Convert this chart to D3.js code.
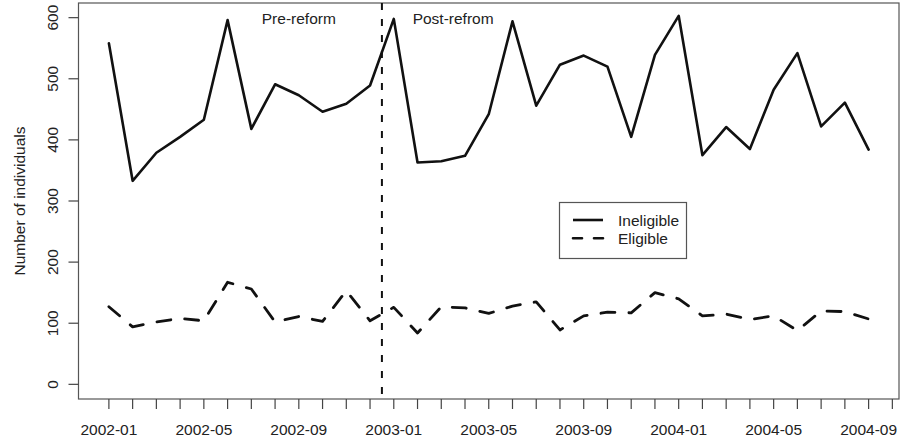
<!DOCTYPE html>
<html>
<head>
<meta charset="utf-8">
<script src="https://cdn.jsdelivr.net/npm/d3@7"></script>
<style>
  html, body { margin: 0; padding: 0; background: #fff; }
  svg { display: block; }
  text { font-family: "Liberation Sans", Arial, Helvetica, sans-serif; fill: #222; }
</style>
</head>
<body>
<svg id="chart" width="902" height="442"></svg>
<script>
const months = ["2002-01","2002-02","2002-03","2002-04","2002-05","2002-06","2002-07","2002-08","2002-09","2002-10","2002-11","2002-12",
  "2003-01","2003-02","2003-03","2003-04","2003-05","2003-06","2003-07","2003-08","2003-09","2003-10","2003-11","2003-12",
  "2004-01","2004-02","2004-03","2004-04","2004-05","2004-06","2004-07","2004-08","2004-09"];
const ineligible = [558, 333, 379, 405, 433, 596, 418, 491, 473, 446, 459, 489, 598, 363, 365, 374, 442, 594, 456, 523, 538, 520, 405, 539, 603, 375, 421, 385, 482, 542, 422, 461, 384];
const eligible = [127, 94, 102, 108, 104, 167, 156, 102, 111, 103, 153, 104, 126, 84, 127, 125, 116, 128, 135, 89, 112, 118, 117, 150, 140, 112, 115, 106, 112, 88, 120, 119, 107];
const xTickLabels = ["2002-01","2002-05","2002-09","2003-01","2003-05","2003-09","2004-01","2004-05","2004-09"];
const yTicks = [0, 100, 200, 300, 400, 500, 600];
const reformBreak = 11.5; // between 2002-12 and 2003-01 (month index)
const annotations = [{label: "Pre-reform", x: 8, y: 600}, {label: "Post-refrom", x: 14.5, y: 600}];
const legendItems = ["Ineligible", "Eligible"];

const svg = d3.select("#chart");
const L = 78.5, R = 899, T = 3, B = 399;
const x = d3.scaleLinear().domain([-1.28, 33.28]).range([L, R]);
const y = d3.scaleLinear().domain([-24, 624]).range([B, T]);

// box
svg.append("rect").attr("x", L).attr("y", T).attr("width", R - L).attr("height", B - T)
  .attr("fill", "none").attr("stroke", "#555").attr("stroke-width", 1.2);

// x axis ticks (every month)
const tickIdx = d3.range(0, months.length + 1);
const gx = svg.append("g");
gx.selectAll("line").data(tickIdx).join("line")
  .attr("x1", d => x(d)).attr("x2", d => x(d))
  .attr("y1", B).attr("y2", B + 10)
  .attr("stroke", "#444").attr("stroke-width", 1.2);
gx.selectAll("text").data(xTickLabels).join("text")
  .attr("x", d => x(months.indexOf(d)))
  .attr("y", 435)
  .attr("text-anchor", "middle")
  .attr("font-size", 15.5)
  .text(d => d);

// y axis ticks
const gy = svg.append("g");
gy.selectAll("line").data(yTicks).join("line")
  .attr("x1", L - 10).attr("x2", L)
  .attr("y1", d => y(d)).attr("y2", d => y(d))
  .attr("stroke", "#444").attr("stroke-width", 1.2);
gy.selectAll("text").data(yTicks).join("text")
  .attr("transform", d => `translate(58,${y(d)}) rotate(-90)`)
  .attr("text-anchor", "middle")
  .attr("font-size", 15.5)
  .text(d => d);

svg.append("text")
  .attr("transform", `translate(24.5,${(T + B) / 2}) rotate(-90)`)
  .attr("text-anchor", "middle")
  .attr("font-size", 15.5)
  .text("Number of individuals");

// reform line
svg.append("line")
  .attr("x1", x(reformBreak)).attr("x2", x(reformBreak))
  .attr("y1", T).attr("y2", B)
  .attr("stroke", "#111").attr("stroke-width", 2)
  .attr("stroke-dasharray", "7,9");

// series
const line = d3.line().x((d, i) => x(i)).y(d => y(d));
svg.append("path").datum(ineligible).attr("d", line)
  .attr("fill", "none").attr("stroke", "#111").attr("stroke-width", 2.6)
  .attr("stroke-linejoin", "round").attr("stroke-linecap", "round");
svg.append("path").datum(eligible).attr("d", line)
  .attr("fill", "none").attr("stroke", "#111").attr("stroke-width", 2.8)
  .attr("stroke-linejoin", "round").attr("stroke-linecap", "round")
  .attr("stroke-dasharray", "14,14");

// annotations
svg.selectAll("text.ann").data(annotations).join("text")
  .attr("class", "ann")
  .attr("x", d => x(d.x)).attr("y", d => y(d.y) + 6)
  .attr("text-anchor", "middle").attr("font-size", 15.5)
  .text(d => d.label);

// legend
const lg = svg.append("g");
lg.append("rect").attr("x", 559.5).attr("y", 202.5).attr("width", 127).attr("height", 56)
  .attr("fill", "#fff").attr("stroke", "#555").attr("stroke-width", 1.2);
legendItems.forEach((name, i) => {
  const yy = 220 + i * 18.3;
  lg.append("line").attr("x1", 573).attr("x2", 603).attr("y1", yy).attr("y2", yy)
    .attr("stroke", "#111").attr("stroke-width", 2.6)
    .attr("stroke-dasharray", i === 1 ? "9,12" : null)
    .attr("stroke-linecap", i === 1 ? "round" : "butt");
  lg.append("text").attr("x", 618).attr("y", yy + 5.5).attr("font-size", 15.5).text(name);
});
</script>
</body>
</html>
